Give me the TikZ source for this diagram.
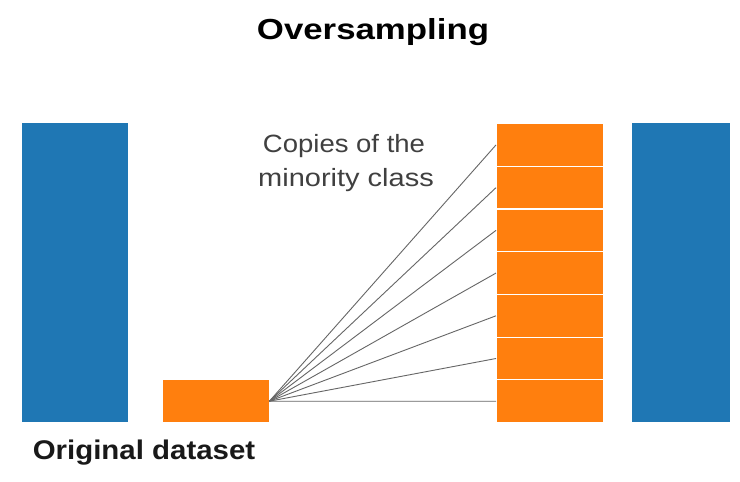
\documentclass[tikz,border=0pt]{standalone}
\usepackage{fontspec}
\setmainfont{Liberation Sans}
\definecolor{tblue}{HTML}{1F77B4}
\definecolor{torange}{HTML}{FF7F0E}
\definecolor{lgray}{HTML}{666666}
\begin{document}
\begin{tikzpicture}[x=1pt,y=-1pt,
  bar/.style={rectangle, inner sep=0pt, anchor=north west},
  cell/.style={bar, fill=torange, draw=white, line width=1.2pt, minimum width=107pt, minimum height=42.71pt},
  link/.style={draw=lgray, line width=0.9pt},
  lbl/.style={inner sep=0pt, anchor=base}]
\useasboundingbox[fill=white] (0,0) rectangle (740,482);
\node[bar, fill=tblue, minimum width=106pt, minimum height=299pt] (blueA) at (22,123) {};
\node[bar, fill=torange, minimum width=106pt, minimum height=42pt] (small) at (163,380) {};
\node[bar, fill=tblue, minimum width=98pt, minimum height=299pt] (blueB) at (632,123) {};
\foreach \i in {0,...,6}{
  \node[cell] (c\i) at (496,{123+\i*42.71}) {};
}
\foreach \i in {0,...,6}{
  \draw[link] (small.east) -- (c\i.west);
}
\node[lbl, font=\fontsize{29}{34}\selectfont\bfseries] (title) at (373,39) {\scalebox{1.2}[1]{Oversampling}};
\node[lbl, font=\fontsize{25}{33}\selectfont, text=black!75] (copy1) at (344,152) {\scalebox{1.1}[1]{Copies of the}};
\node[lbl, font=\fontsize{25}{33}\selectfont, text=black!75] (copy2) at (346,186) {\scalebox{1.16}[1]{minority class}};
\node[lbl, font=\fontsize{27}{32}\selectfont\bfseries, text=black!90] (orig) at (144,459) {\scalebox{1.09}[1]{Original dataset}};
\end{tikzpicture}
\end{document}
